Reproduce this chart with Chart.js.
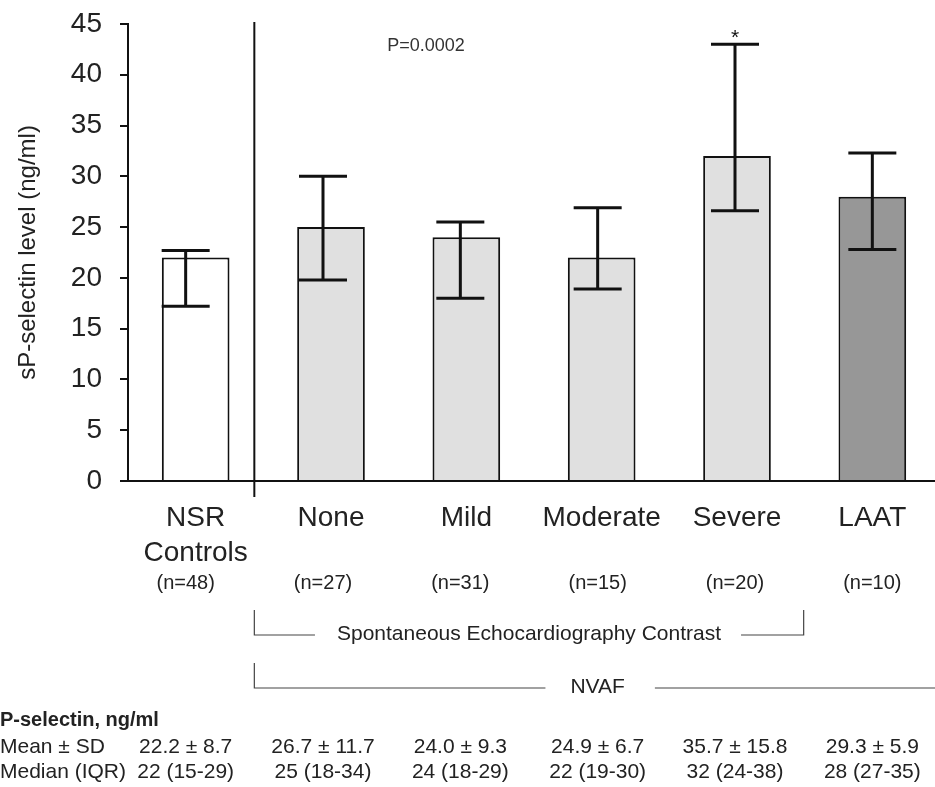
<!DOCTYPE html>
<html>
<head>
<meta charset="utf-8">
<script src="https://cdn.jsdelivr.net/npm/chart.js@4"></script>
<style>
  html, body { margin: 0; padding: 0; background: #fff; overflow: hidden; }
  #wrap { width: 945px; height: 787px; }
</style>
</head>
<body>
<div id="wrap"><canvas id="chart"></canvas></div>
<script>
const categories = [['NSR', 'Controls'], 'None', 'Mild', 'Moderate', 'Severe', 'LAAT'];
const means = [22, 25, 24, 22, 32, 28];
const errLow = [17.2, 19.8, 18.0, 18.9, 26.6, 22.8];
const errHigh = [22.7, 30.0, 25.5, 26.9, 43.0, 32.3];
const nCounts = ['(n=48)', '(n=27)', '(n=31)', '(n=15)', '(n=20)', '(n=10)'];
const meanSd = ['22.2 ± 8.7', '26.7 ± 11.7', '24.0 ± 9.3', '24.9 ± 6.7', '35.7 ± 15.8', '29.3 ± 5.9'];
const medianIqr = ['22 (15-29)', '25 (18-34)', '24 (18-29)', '22 (19-30)', '32 (24-38)', '28 (27-35)'];
const barColors = ['#ffffff', '#e0e0e0', '#e0e0e0', '#e0e0e0', '#e0e0e0', '#979797'];
const pText = 'P=0.0002';

const FONT = "'Liberation Sans', Arial, sans-serif";

// error bars sit a little left of the bar centres in the original
function errX(chart, i) {
    return chart.scales.x.getPixelForValue(i) - 2 * (5 - i);
}

const annotations = {
    id: 'annotations',
    afterDatasetsDraw(chart) {
        const ctx = chart.ctx;
        const y = chart.scales.y;
        const area = chart.chartArea;
        ctx.save();

        // error bars
        ctx.strokeStyle = '#111';
        ctx.lineWidth = 3;
        for (let i = 0; i < means.length; i++) {
            const x = errX(chart, i);
            const yh = y.getPixelForValue(errHigh[i]);
            const yl = y.getPixelForValue(errLow[i]);
            ctx.beginPath();
            ctx.moveTo(x, yh); ctx.lineTo(x, yl);
            ctx.moveTo(x - 24, yh); ctx.lineTo(x + 24, yh);
            ctx.moveTo(x - 24, yl); ctx.lineTo(x + 24, yl);
            ctx.stroke();
        }

        // significance star over Severe
        ctx.fillStyle = '#111';
        ctx.font = '21px ' + FONT;
        ctx.textAlign = 'center';
        ctx.textBaseline = 'alphabetic';
        ctx.fillText('*', errX(chart, 4), y.getPixelForValue(errHigh[4]));

        // P value
        ctx.fillStyle = '#333';
        ctx.font = '18px ' + FONT;
        ctx.textBaseline = 'middle';
        ctx.fillText(pText, 426, 46);

        // divider between controls and NVAF
        const divX = (errX(chart, 0) + errX(chart, 1)) / 2;
        ctx.strokeStyle = '#111';
        ctx.lineWidth = 2;
        ctx.beginPath();
        ctx.moveTo(divX, area.top - 2);
        ctx.lineTo(divX, area.bottom + 16);
        ctx.stroke();

        // n counts
        ctx.fillStyle = '#222';
        ctx.font = '20px ' + FONT;
        for (let i = 0; i < nCounts.length; i++) {
            ctx.fillText(nCounts[i], errX(chart, i), 583);
        }

        // brackets
        const secRight = (errX(chart, 4) + errX(chart, 5)) / 2;
        ctx.strokeStyle = '#444';
        ctx.lineWidth = 1.2;
        ctx.font = '21px ' + FONT;
        ctx.fillStyle = '#222';
        const secLabel = 'Spontaneous Echocardiography Contrast';
        const secMid = (divX + secRight) / 2;
        const secW = ctx.measureText(secLabel).width;
        ctx.beginPath();
        ctx.moveTo(divX, 610); ctx.lineTo(divX, 635); ctx.lineTo(secMid - secW / 2 - 22, 635);
        ctx.moveTo(secMid + secW / 2 + 20, 635); ctx.lineTo(secRight, 635); ctx.lineTo(secRight, 610);
        ctx.stroke();
        ctx.fillText(secLabel, secMid, 634);

        const nvafMid = errX(chart, 3);
        const nvafW = ctx.measureText('NVAF').width;
        ctx.beginPath();
        ctx.moveTo(divX, 663); ctx.lineTo(divX, 688); ctx.lineTo(nvafMid - nvafW / 2 - 25, 688);
        ctx.moveTo(nvafMid + nvafW / 2 + 30, 688); ctx.lineTo(chart.width, 688);
        ctx.stroke();
        ctx.fillText('NVAF', nvafMid, 687);

        // table
        ctx.textAlign = 'left';
        ctx.font = 'bold 20px ' + FONT;
        ctx.fillText('P-selectin, ng/ml', 0, 720);
        ctx.font = '21px ' + FONT;
        ctx.fillText('Mean ± SD', 0, 747);
        ctx.fillText('Median (IQR)', 0, 772);
        ctx.textAlign = 'center';
        for (let i = 0; i < meanSd.length; i++) {
            ctx.fillText(meanSd[i], errX(chart, i), 747);
            ctx.fillText(medianIqr[i], errX(chart, i), 772);
        }
        ctx.restore();
    }
};

const ctx = document.getElementById('chart').getContext('2d');
const chart = new Chart(ctx, {
    type: 'bar',
    data: {
        labels: categories,
        datasets: [{
            data: means,
            backgroundColor: barColors,
            borderColor: '#111',
            borderWidth: 2,
            barPercentage: 0.5,
            categoryPercentage: 1
        }]
    },
    options: {
        responsive: true,
        maintainAspectRatio: false,
        animation: false,
        layout: { padding: { top: 24, left: 0, right: 5, bottom: 204 } },
        plugins: { legend: { display: false }, tooltip: { enabled: false } },
        scales: {
            x: {
                grid: { display: false },
                border: { display: true, color: '#111', width: 2 },
                ticks: {
                    padding: 12,
                    color: '#222',
                    maxRotation: 0,
                    autoSkip: false,
                    font: { family: FONT, size: 28, lineHeight: 1.25 }
                }
            },
            y: {
                min: 0,
                max: 45,
                afterFit(scale) {
                    scale.width = 128;
                    scale.paddingTop = 0;
                    scale.paddingBottom = 0;
                },
                grid: { drawOnChartArea: false, drawTicks: true, tickLength: 8, color: '#111', lineWidth: 2 },
                border: { display: true, color: '#111', width: 2 },
                ticks: {
                    stepSize: 5,
                    padding: 18,
                    color: '#222',
                    font: { family: FONT, size: 28 }
                },
                title: {
                    display: true,
                    text: 'sP-selectin level (ng/ml)',
                    color: '#222',
                    padding: { top: 14, bottom: 0 },
                    font: { family: FONT, size: 24 }
                }
            }
        }
    },
    plugins: [annotations]
});
</script>
</body>
</html>
